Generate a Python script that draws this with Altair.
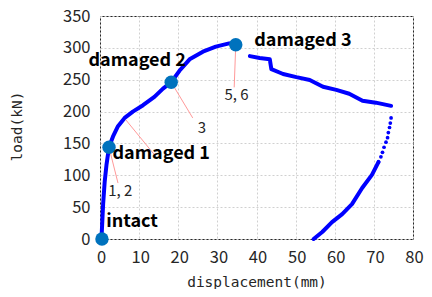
import altair as alt
import pandas as pd

# loading branch (displacement mm, load kN)
load_disp = [0, 0.4, 0.8, 1.2, 1.65, 2.3, 3.4, 4.6, 6.3, 8.4, 11.0, 13.9, 16.1, 18.2, 20.3, 22.9, 26.3, 29.6, 33.0, 35.0]
load_force = [0, 3.5, 55, 90, 116, 144, 162, 177, 190, 200, 210, 223, 236, 246, 264, 282, 294, 302, 307, 308]
# post-peak branch
post_disp = [38.3, 40.8, 43.4, 43.8, 46.8, 50.2, 53.6, 57.0, 60.4, 63.7, 67.1, 70.5, 74.4]
post_force = [287, 284, 282, 266.5, 259, 254, 249.6, 239, 234, 228, 217, 214, 209]
# sparse unloading points
dot_disp = [74.4, 74.2, 74.0, 73.7, 73.5, 73.1, 72.6, 72.2, 71.8, 71.2]
dot_force = [190, 182, 175, 167, 159, 152, 144, 136, 129, 121]
# dense unloading branch
unl_disp = [71.2, 69.5, 67.0, 64.4, 61.9, 59.3, 56.8, 54.6]
unl_force = [121, 100.6, 80, 54.7, 39, 26.5, 11, 0]

# damage states
state_names = ["intact", "damaged 1", "damaged 2", "damaged 3"]
state_disp = [0.5, 2.3, 18.2, 34.7]
state_force = [0, 144, 246, 305]
state_label_x = [1.6, 3.2, 9.5, 39.4]
state_label_y = [26.5, 133.7, 279, 310]
state_label_align = ["left", "left", "center", "left"]

# callouts
call_text = ["1, 2", "3", "5, 6"]
call_x = [2.1, 25.0, 31.8]
call_y = [75, 174.6, 225.6]
seg_x1 = [2.3, 14.4, 18.2, 34.7]
seg_y1 = [144, 128.6, 246, 305]
seg_x2 = [4.6, 6.6, 23.7, 34.3]
seg_y2 = [87.8, 187, 190, 238]

x_ticks = [0, 10, 20, 30, 40, 50, 60, 70, 80]
y_ticks = [0, 50, 100, 150, 200, 250, 300, 350]

rows = []
for i, (d, f) in enumerate(zip(load_disp, load_force)):
    rows.append({"d": d, "f": f, "seg": "load", "o": i})
for i, (d, f) in enumerate(zip(post_disp, post_force)):
    rows.append({"d": d, "f": f, "seg": "post", "o": i})
for i, (d, f) in enumerate(zip(unl_disp, unl_force)):
    rows.append({"d": d, "f": f, "seg": "unl", "o": i})
curve = pd.DataFrame(rows)
dots = pd.DataFrame({"d": dot_disp, "f": dot_force})
states = pd.DataFrame({"name": state_names, "d": state_disp, "f": state_force,
                       "lx": state_label_x, "ly": state_label_y, "al": state_label_align})
calls = pd.DataFrame({"t": call_text, "x": call_x, "y": call_y})
segs = pd.DataFrame({"x1": seg_x1, "y1": seg_y1, "x2": seg_x2, "y2": seg_y2})

xs = alt.Scale(domain=[0, 80], nice=False)
ys = alt.Scale(domain=[0, 350], nice=False)

xax = alt.Axis(values=x_ticks, title="displacement(mm)", labelOffset=1,
               titleY=43, titleBaseline="middle", labelOverlap=False)
yax = alt.Axis(values=y_ticks, title="load(kN)", titleX=-83, titleY=110,
               titleBaseline="middle", titleAngle=-90, labelOverlap=False)

line = alt.Chart(curve).mark_line(color="#0000ff", strokeWidth=4, strokeCap="round", strokeJoin="round", clip=False).encode(
    x=alt.X("d:Q", scale=xs, axis=xax),
    y=alt.Y("f:Q", scale=ys, axis=yax),
    detail="seg:N",
    order="o:Q",
)
dotl = alt.Chart(dots).mark_circle(color="#0000ff", size=14, opacity=1).encode(
    x=alt.X("d:Q", scale=xs, axis=xax), y=alt.Y("f:Q", scale=ys, axis=yax))

rules = alt.Chart(segs).mark_rule(color="#ff9999", strokeWidth=1).encode(
    x=alt.X("x1:Q", scale=xs, axis=xax), y=alt.Y("y1:Q", scale=ys, axis=yax), x2="x2:Q", y2="y2:Q")

pts = alt.Chart(states).mark_circle(color="#0072BD", size=180, opacity=1, clip=False).encode(
    x=alt.X("d:Q", scale=xs, axis=xax), y=alt.Y("f:Q", scale=ys, axis=yax))

labs = []
for al in ["left", "center"]:
    labs.append(alt.Chart(states[states["al"] == al]).mark_text(
        align=al, baseline="middle", fontSize=18, fontWeight="bold",
        font="Noto Sans CJK JP", color="#000000").encode(
        x=alt.X("lx:Q", scale=xs, axis=xax), y=alt.Y("ly:Q", scale=ys, axis=yax), text="name:N"))

callt = alt.Chart(calls).mark_text(align="left", baseline="middle", fontSize=15,
                                   font="Noto Sans CJK JP", color="#262626").encode(
    x=alt.X("x:Q", scale=xs, axis=xax), y=alt.Y("y:Q", scale=ys, axis=yax), text="t:N")

chart = alt.layer(line, dotl, rules, pts, *labs, callt).properties(
    width=313, height=223,
    autosize=alt.AutoSizeParams(type="none"),
    padding={"left": 92, "top": 8, "right": 11, "bottom": 50},
).configure_view(stroke="#262626", strokeWidth=1).configure_axis(
    grid=True, gridColor="#d0d0d0", gridDash=[2, 2], gridWidth=1,
    domain=False, ticks=False, labelOverlap=False, labelFlush=False,
    labelFont="Noto Sans CJK JP", labelFontSize=16.5, labelColor="#262626", labelPadding=10,
    titleFont="DejaVu Sans Mono", titleFontSize=14.5, titleFontWeight="normal", titleColor="#262626",
)

chart.save("out.html", embed_options={"renderer": "svg", "actions": False})
